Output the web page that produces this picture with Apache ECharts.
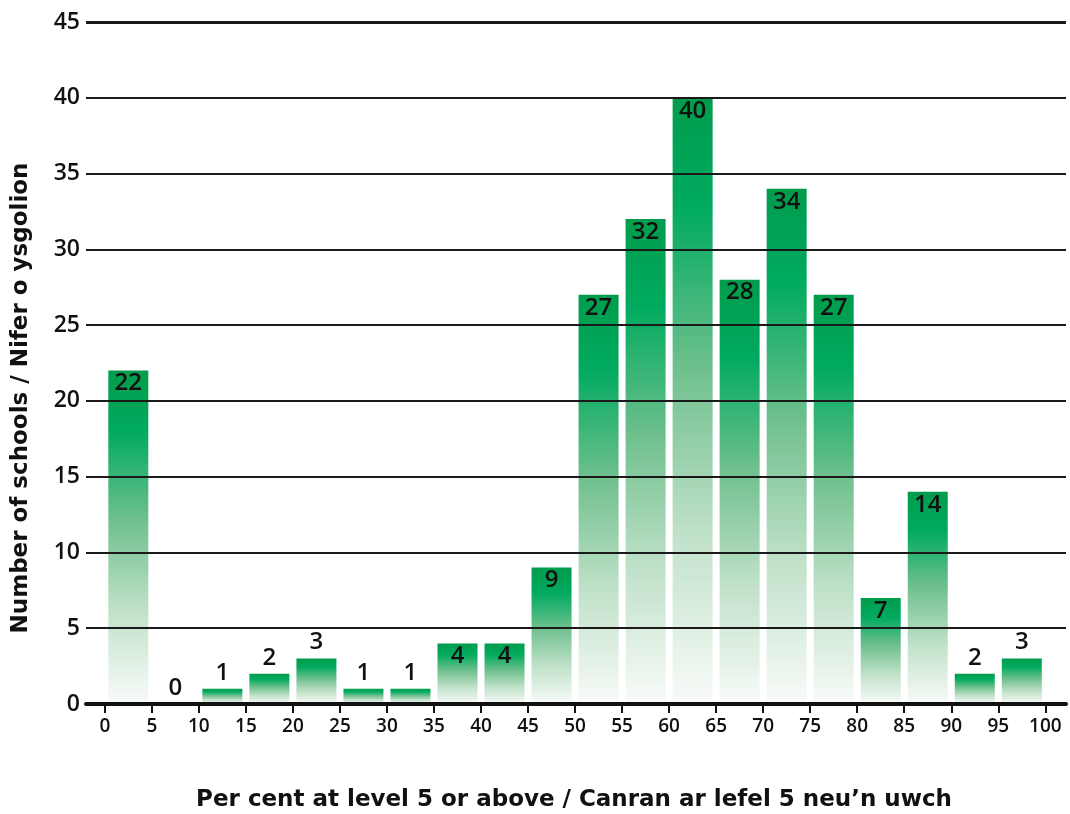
<!DOCTYPE html>
<html><head><meta charset="utf-8">
<script src="https://cdn.jsdelivr.net/npm/echarts@6/dist/echarts.min.js"></script>
<style>html,body{margin:0;padding:0;background:#fff}#c{width:1070px;height:814px}</style>
</head><body><div id="c"></div>
<script>
// Histogram bins (lower edge of each 5-point band)
const binStarts = [0,5,10,15,20,25,30,35,40,45,50,55,60,65,70,75,80,85,90,95];
const binWidth = 5;
const counts = [22,0,1,2,3,1,1,4,4,9,27,32,40,28,34,27,7,14,2,3];
const xTickValues = [0,5,10,15,20,25,30,35,40,45,50,55,60,65,70,75,80,85,90,95,100];
const yTickValues = [0,5,10,15,20,25,30,35,40,45];
const xTitle = 'Per cent at level 5 or above / Canran ar lefel 5 neu’n uwch';
const yTitle = 'Number of schools / Nifer o ysgolion';

const NUMFONT = '"Open Sans", "Liberation Sans", sans-serif';
const TITLEFONT = '"DejaVu Sans", sans-serif';
const chart = echarts.init(document.getElementById('c'), null, {renderer: 'canvas'});

const barGradient = new echarts.graphic.LinearGradient(0, 0, 0, 1, [
  {offset: 0, color: '#009c4c'},
  {offset: 0.18, color: '#00aa5f'},
  {offset: 0.45, color: '#70c08e'},
  {offset: 0.72, color: '#c0e1c9'},
  {offset: 1, color: '#f9fbf9'}
]);

const barData = binStarts.map((s, i) => ({
  value: [s + binWidth / 2, counts[i]],
  label: counts[i] <= 3 ? {position: 'top', distance: 4} : {position: 'insideTop', distance: 1}
}));

chart.setOption({
  animation: false,
  backgroundColor: '#ffffff',
  grid: {left: 86, right: 4, top: 22, bottom: 110, containLabel: false},
  xAxis: {
    type: 'value', min: -2, max: 102.2, z: 12,
    axisLine: {show: true, lineStyle: {color: '#111', width: 4}},
    axisTick: {show: true, length: 9, lineStyle: {color: '#111', width: 2}, customValues: xTickValues},
    axisLabel: {show: true, customValues: xTickValues, fontFamily: NUMFONT, fontWeight: 600, fontSize: 19, color: '#111', margin: 13},
    splitLine: {show: false}
  },
  yAxis: {
    type: 'value', min: 0, max: 45, interval: 5,
    axisLine: {show: false}, axisTick: {show: false},
    axisLabel: {fontFamily: NUMFONT, fontWeight: 600, fontSize: 23, color: '#111', margin: 6},
    splitLine: {show: false}
  },
  graphic: [
    {type: 'text', x: 574, y: 800,
     style: {text: xTitle, font: 'bold 23px ' + TITLEFONT, fill: '#111', align: 'center', verticalAlign: 'middle'}},
    {type: 'text', x: 21, y: 398, rotation: Math.PI / 2,
     style: {text: yTitle, font: 'bold 23px ' + TITLEFONT, fill: '#111', align: 'center', verticalAlign: 'middle'}}
  ],
  series: [
    {
      type: 'bar', data: barData, barWidth: 40, z: 2,
      itemStyle: {color: barGradient},
      label: {show: true, formatter: p => p.value[1], fontFamily: NUMFONT, fontWeight: 600, fontSize: 24, lineHeight: 24, color: '#111'}
    },
    {
      type: 'line', data: [], z: 10, silent: true,
      markLine: {
        silent: true, symbol: 'none', animation: false,
        label: {show: false},
        lineStyle: {color: '#1a1a1a', width: 1.8, type: 'solid'},
        data: yTickValues.filter(v => v > 0).map(v => ({yAxis: v, lineStyle: {width: v === 45 ? 3 : 1.8, type: 'solid', color: '#1a1a1a'}}))
      }
    }
  ]
});
</script></body></html>
